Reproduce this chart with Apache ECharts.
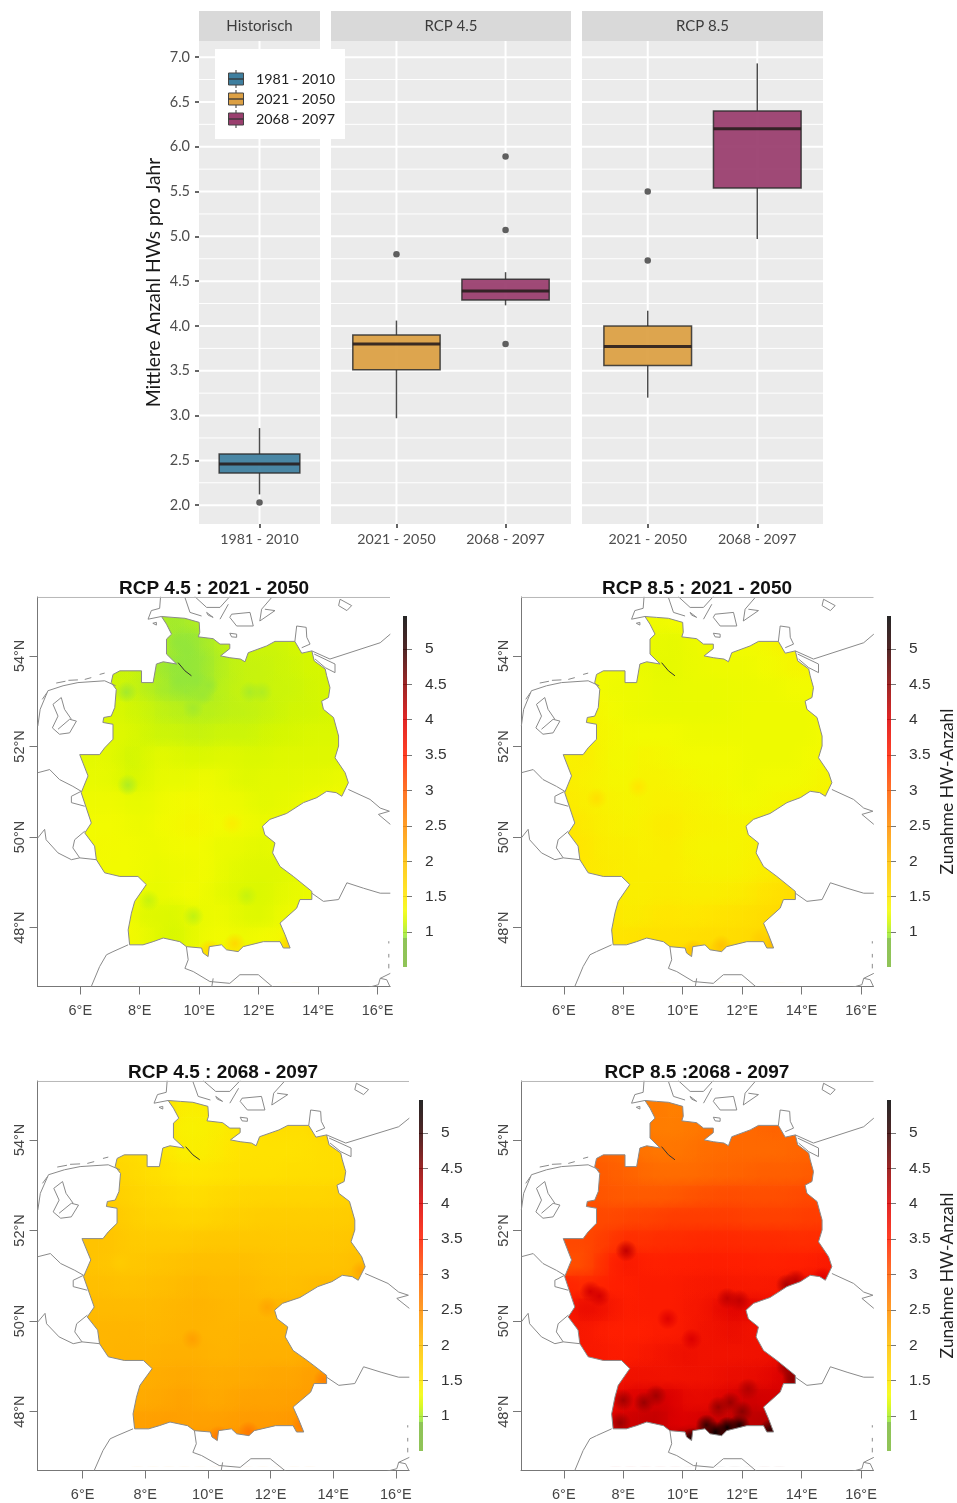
<!DOCTYPE html>
<html><head><meta charset="utf-8">
<style>html,body{margin:0;padding:0;background:#fff}#c{width:957px;height:1503px}</style>
<script src="https://cdn.jsdelivr.net/npm/echarts@6/dist/echarts.min.js"></script>
</head><body><div id="c"></div>
<script>
// ---------- Box plot data: [x, whiskerLow, q1, median, q3, whiskerHigh]
const periods = ['1981 - 2010', '2021 - 2050', '2068 - 2097'];
const periodColors = ['#3f7f9f', '#dca044', '#9a3f6e'];
const facetNames = ['Historisch', 'RCP 4.5', 'RCP 8.5'];
const histBoxes = [[1, 2.12, 2.36, 2.46, 2.57, 2.86]];
const rcp45Boxes = [[1, 2.97, 3.51, 3.80, 3.90, 4.06], [2, 4.23, 4.29, 4.39, 4.52, 4.60]];
const rcp85Boxes = [[1, 3.20, 3.56, 3.77, 4.00, 4.17], [2, 4.97, 5.54, 6.20, 6.40, 6.93]];
const histOutliers = [[1, 2.03]];
const rcp45Outliers = [[1, 4.80], [2, 5.89], [2, 5.07], [2, 3.80]];
const rcp85Outliers = [[1, 5.50], [1, 4.73]];
const yMajor = [2, 2.5, 3, 3.5, 4, 4.5, 5, 5.5, 6, 6.5, 7];
const yMinor = [2.25, 2.75, 3.25, 3.75, 4.25, 4.75, 5.25, 5.75, 6.25, 6.75];

// ---------- Map data
const lonTicks = [6, 8, 10, 12, 14, 16];
const latTicks = [48, 50, 52, 54];
const barTicks = [1, 1.5, 2, 2.5, 3, 3.5, 4, 4.5, 5];
const paletteValues = [0.5, 0.91, 0.92, 1.15, 1.3, 1.5, 2.0, 2.5, 3.0, 3.5, 4.0, 4.5, 5.0, 5.47];
const paletteColors = ['#7cb93a', '#7cb93a', '#93e63a', '#d5f700', '#f2fb00', '#ffe600', '#ffbf00', '#ff8c00', '#ff5a00', '#ff1e00', '#dc0000', '#8a0000', '#300000', '#000000'];
const cellLons = [5.5, 6, 6.5, 7, 7.5, 8, 8.5, 9, 9.5, 10, 10.5, 11, 11.5, 12, 12.5, 13, 13.5, 14, 14.5, 15];
const cellLats = [55, 54.5, 54, 53.5, 53, 52.5, 52, 51.5, 51, 50.5, 50, 49.5, 49, 48.5, 48, 47.5];

const rcp45near = [
[0,0,0,0,0,0,1.02,.97,1.0,1.05,1.1,0,0,0,0,0,0,0,0,0],
[0,0,0,0,0,0,1.02,.95,.92,.98,1.05,1.1,1.12,1.12,1.12,1.15,1.15,1.15,0,0],
[0,0,0,1.1,1.12,1.05,.98,.92,.92,.95,1.03,1.08,1.1,1.1,1.12,1.13,1.15,1.15,1.15,0],
[0,0,1.12,1.14,1.1,1.06,1.0,.96,.93,.98,1.05,1.08,1.1,1.1,1.12,1.12,1.14,1.15,1.15,0],
[0,0,1.18,1.18,1.14,1.12,1.08,1.06,1.04,1.05,1.06,1.08,1.08,1.1,1.12,1.14,1.14,1.15,1.16,0],
[0,1.2,1.2,1.2,1.18,1.14,1.12,1.12,1.1,1.1,1.12,1.12,1.12,1.14,1.15,1.16,1.18,1.18,1.18,0],
[0,1.22,1.24,1.2,1.14,1.18,1.22,1.2,1.18,1.18,1.2,1.2,1.18,1.18,1.2,1.2,1.2,1.2,1.2,1.22],
[0,1.25,1.25,1.22,1.15,1.2,1.25,1.25,1.25,1.28,1.26,1.22,1.2,1.22,1.22,1.22,1.24,1.24,1.26,1.26],
[0,1.28,1.28,1.28,1.25,1.25,1.28,1.3,1.32,1.3,1.28,1.28,1.25,1.22,1.24,1.25,1.28,1.3,1.3,0],
[0,1.3,1.3,1.3,1.28,1.27,1.3,1.32,1.35,1.33,1.3,1.32,1.28,1.26,1.28,1.3,1.3,1.3,0,0],
[0,1.3,1.32,1.3,1.3,1.28,1.28,1.3,1.3,1.3,1.26,1.26,1.24,1.22,1.25,1.3,0,0,0,0],
[0,0,1.3,1.3,1.3,1.28,1.26,1.28,1.28,1.3,1.26,1.22,1.2,1.2,1.2,1.22,1.25,0,0,0],
[0,0,1.28,1.3,1.3,1.26,1.25,1.28,1.3,1.28,1.24,1.2,1.18,1.18,1.22,1.25,1.26,1.28,0,0],
[0,0,0,1.3,1.3,1.2,1.2,1.18,1.24,1.26,1.28,1.24,1.2,1.2,1.26,1.28,1.3,1.3,0,0],
[0,0,0,0,1.32,1.26,1.2,1.16,1.22,1.28,1.3,1.28,1.28,1.3,1.32,1.36,0,0,0,0],
[0,0,0,0,1.32,1.32,1.3,1.26,1.34,1.42,1.48,1.45,1.42,1.42,1.45,1.6,0,0,0,0]];

const rcp85near = [
[0,0,0,0,0,0,1.3,1.28,1.3,1.32,1.3,0,0,0,0,0,0,0,0,0],
[0,0,0,0,0,0,1.28,1.25,1.24,1.26,1.28,1.28,1.3,1.3,1.32,1.36,1.4,1.35,0,0],
[0,0,0,1.3,1.3,1.28,1.26,1.24,1.24,1.26,1.27,1.28,1.28,1.28,1.3,1.32,1.35,1.36,1.3,0],
[0,0,1.3,1.3,1.28,1.28,1.27,1.25,1.25,1.26,1.26,1.26,1.27,1.27,1.28,1.28,1.3,1.3,1.3,0],
[0,0,1.36,1.34,1.3,1.28,1.27,1.26,1.26,1.26,1.26,1.26,1.27,1.28,1.28,1.28,1.28,1.28,1.3,0],
[0,1.38,1.38,1.36,1.33,1.3,1.3,1.3,1.3,1.28,1.28,1.28,1.28,1.28,1.28,1.28,1.28,1.28,1.3,0],
[0,1.4,1.42,1.38,1.32,1.32,1.36,1.34,1.32,1.3,1.3,1.3,1.3,1.28,1.28,1.28,1.28,1.3,1.32,1.34],
[0,1.42,1.4,1.38,1.34,1.34,1.38,1.38,1.36,1.34,1.32,1.32,1.3,1.28,1.3,1.3,1.3,1.32,1.35,1.36],
[0,1.45,1.42,1.4,1.38,1.36,1.38,1.4,1.4,1.38,1.36,1.34,1.32,1.3,1.32,1.34,1.36,1.38,1.4,0],
[0,1.5,1.46,1.42,1.4,1.38,1.4,1.44,1.44,1.4,1.38,1.38,1.36,1.36,1.38,1.4,1.42,1.4,0,0],
[0,1.5,1.5,1.44,1.42,1.42,1.4,1.42,1.42,1.38,1.36,1.36,1.36,1.38,1.4,1.42,0,0,0,0],
[0,0,1.48,1.46,1.44,1.42,1.42,1.42,1.42,1.4,1.38,1.38,1.38,1.4,1.42,1.46,1.48,0,0,0],
[0,0,1.48,1.46,1.44,1.42,1.42,1.44,1.44,1.42,1.42,1.42,1.44,1.46,1.52,1.56,1.6,1.6,0,0],
[0,0,0,1.48,1.48,1.44,1.46,1.5,1.5,1.48,1.5,1.52,1.55,1.58,1.62,1.66,1.65,1.62,0,0],
[0,0,0,0,1.52,1.52,1.56,1.56,1.56,1.58,1.6,1.62,1.62,1.64,1.68,1.7,0,0,0,0],
[0,0,0,0,1.6,1.6,1.62,1.66,1.72,1.78,1.82,1.82,1.78,1.75,1.72,1.7,0,0,0,0]];

const rcp45far = [
[0,0,0,0,0,0,1.55,1.42,1.42,1.45,1.5,0,0,0,0,0,0,0,0,0],
[0,0,0,0,0,0,1.5,1.4,1.4,1.42,1.46,1.5,1.55,1.6,1.6,1.6,1.7,1.7,0,0],
[0,0,0,1.65,1.62,1.55,1.48,1.42,1.42,1.45,1.5,1.55,1.55,1.55,1.55,1.58,1.6,1.62,1.62,0],
[0,0,1.7,1.7,1.65,1.6,1.55,1.5,1.5,1.52,1.55,1.58,1.58,1.58,1.6,1.6,1.62,1.62,1.65,0],
[0,0,1.8,1.78,1.72,1.68,1.65,1.62,1.62,1.65,1.68,1.7,1.72,1.72,1.72,1.72,1.72,1.75,1.75,0],
[0,1.9,1.9,1.85,1.78,1.75,1.75,1.72,1.72,1.75,1.78,1.8,1.82,1.82,1.82,1.82,1.82,1.82,1.85,0],
[0,1.95,1.95,1.9,1.85,1.85,1.85,1.85,1.88,1.9,1.9,1.9,1.9,1.88,1.88,1.88,1.88,1.9,1.92,1.92],
[0,1.95,1.92,1.9,1.9,1.92,1.95,1.98,2.0,2.0,2.0,2.0,1.98,1.95,1.95,1.95,1.95,1.95,2.0,2.0],
[0,2.0,2.0,1.98,1.98,2.0,2.02,2.05,2.08,2.05,2.05,2.05,2.02,2.0,2.0,2.02,2.05,2.05,2.08,0],
[0,2.05,2.05,2.05,2.05,2.05,2.08,2.1,2.12,2.1,2.08,2.08,2.08,2.1,2.1,2.1,2.08,2.08,0,0],
[0,2.08,2.1,2.1,2.1,2.08,2.1,2.12,2.12,2.1,2.1,2.12,2.12,2.12,2.12,2.12,0,0,0,0],
[0,0,2.1,2.12,2.12,2.12,2.15,2.15,2.15,2.12,2.12,2.15,2.15,2.15,2.15,2.2,2.2,0,0,0],
[0,0,2.12,2.15,2.15,2.18,2.2,2.22,2.2,2.18,2.2,2.2,2.22,2.25,2.25,2.3,2.3,2.35,0,0],
[0,0,0,2.2,2.2,2.22,2.25,2.28,2.25,2.22,2.25,2.28,2.28,2.28,2.3,2.32,2.35,2.35,0,0],
[0,0,0,0,2.3,2.3,2.32,2.3,2.3,2.3,2.32,2.35,2.35,2.35,2.38,2.4,0,0,0,0],
[0,0,0,0,2.35,2.35,2.38,2.4,2.42,2.45,2.5,2.52,2.5,2.48,2.45,2.5,0,0,0,0]];

const rcp85far = [
[0,0,0,0,0,0,2.62,2.68,2.62,2.65,2.7,0,0,0,0,0,0,0,0,0],
[0,0,0,0,0,0,2.68,2.65,2.65,2.68,2.72,2.78,2.85,2.85,2.88,2.92,2.85,2.85,0,0],
[0,0,0,2.92,2.88,2.82,2.75,2.72,2.72,2.75,2.8,2.82,2.85,2.85,2.85,2.85,2.88,2.9,2.92,0],
[0,0,2.98,3.0,2.95,2.92,2.85,2.82,2.82,2.82,2.85,2.88,2.9,2.92,2.95,2.95,2.95,2.98,3.0,0],
[0,0,3.05,3.05,3.02,3.0,3.0,3.0,3.02,3.05,3.08,3.1,3.12,3.1,3.1,3.1,3.12,3.15,3.15,0],
[0,3.12,3.15,3.15,3.15,3.18,3.2,3.22,3.25,3.25,3.25,3.25,3.25,3.22,3.22,3.22,3.22,3.25,3.25,0],
[0,3.15,3.15,3.22,3.3,3.38,3.35,3.38,3.38,3.4,3.42,3.42,3.42,3.4,3.4,3.4,3.38,3.38,3.4,3.4],
[0,3.1,3.12,3.3,3.48,3.58,3.5,3.48,3.5,3.5,3.52,3.52,3.5,3.5,3.48,3.48,3.5,3.5,3.55,3.6],
[0,3.45,3.4,3.45,3.5,3.5,3.55,3.55,3.55,3.58,3.6,3.62,3.6,3.58,3.58,3.6,3.65,3.78,3.82,0],
[0,3.6,3.78,3.75,3.6,3.52,3.55,3.55,3.55,3.62,3.65,3.8,3.92,3.88,3.8,3.78,3.75,3.7,0,0],
[0,3.6,3.62,3.55,3.5,3.5,3.5,3.55,3.55,3.62,3.7,3.72,3.78,3.72,3.7,3.68,0,0,0,0],
[0,0,3.6,3.6,3.55,3.55,3.6,3.65,3.7,3.75,3.7,3.7,3.7,3.72,3.72,3.78,3.85,0,0,0],
[0,0,3.7,3.7,3.65,3.72,3.72,3.7,3.7,3.72,3.72,3.75,3.8,3.8,3.85,3.95,4.05,4.15,0,0],
[0,0,0,3.78,3.85,3.95,4.0,4.05,4.0,3.85,3.85,3.9,4.02,4.1,4.05,4.05,4.02,4.0,0,0],
[0,0,0,0,4.0,4.08,4.12,4.15,4.0,3.98,4.05,4.12,4.15,4.18,4.2,4.25,0,0,0,0],
[0,0,0,0,4.08,4.1,4.08,4.15,4.25,4.55,4.8,5.0,4.85,4.6,4.5,4.6,0,0,0,0]];

// local features finer than the grid: [lon, lat, value]
const rcp45nearSpots = [[9.6,53.55,.92],[9.9,53.45,.92],[9.3,53.45,.92],[10.3,53.35,.94],[9.55,54.15,.92],[9.3,54.3,.92],[10.1,53.15,.95],[7.55,53.2,.98],[7.6,51.15,1.02],[9.8,52.85,.98],[11.7,53.2,1.0],[12.1,53.2,1.02],[9.8,48.25,1.08],[8.3,48.6,1.1],[11.6,48.7,1.1],[13.0,47.62,1.75],[11.2,47.65,1.65],[10.35,47.5,1.7],[13.6,54.5,1.0],[11.1,50.3,1.42]];
const rcp85nearSpots = [[13.05,47.65,2.05],[12.6,47.75,1.8],[10.35,47.5,1.95],[11.3,47.6,1.95],[7.1,50.85,1.58],[13.6,54.5,1.9],[8.5,51.1,1.5]];
const rcp45farSpots = [[13.55,54.55,2.8],[10.35,47.45,2.7],[11.3,47.55,2.7],[13.0,47.7,2.65],[13.7,48.7,2.6],[14.9,51.1,2.25],[9.5,49.6,2.3],[11.9,50.3,2.25],[7.2,51.3,1.85]];
const rcp85farSpots = [[8.1,51.55,4.15],[9.5,50.05,3.95],[6.9,50.65,4.05],[7.2,50.55,4.05],[11.5,50.5,4.15],[11.9,50.45,4.15],[13.5,50.8,4.3],[13.8,50.9,4.2],[13.7,48.85,4.4],[13.5,49.0,4.4],[13.7,48.7,4.5],[8.0,48.25,4.35],[8.7,48.2,4.4],[9.1,48.35,4.35],[10.3,47.4,5.2],[11.1,47.55,5.35],[11.5,47.65,5.35],[11.9,47.7,5.2],[12.95,47.6,5.0],[10.8,47.7,4.95],[12.0,48.0,4.5],[11.6,48.2,4.4],[7.9,47.75,4.4],[14.7,50.95,3.95],[10.3,49.6,4.0],[12.2,48.5,4.25],[11.2,48.1,4.4]];

const germany = [[8.73,54.87],[9.12,54.85],[9.52,54.83],[10.0,54.74],[10.02,54.52],[9.97,54.42],[10.47,54.38],[10.70,54.26],[11.03,54.26],[11.03,54.16],[10.72,54.0],[11.03,53.96],[11.39,53.93],[11.54,53.87],[11.65,54.07],[12.27,54.22],[12.55,54.32],[13.22,54.32],[13.45,54.06],[13.79,54.11],[13.87,53.89],[14.24,53.71],[14.29,53.56],[14.40,53.30],[14.35,53.08],[14.12,53.0],[14.18,52.82],[14.52,52.64],[14.69,52.23],[14.69,52.01],[14.57,51.75],[14.91,51.42],[15.02,51.20],[14.80,50.90],[14.61,50.98],[14.29,51.01],[13.96,50.87],[13.51,50.76],[12.94,50.52],[12.38,50.39],[12.13,50.24],[12.21,50.05],[12.55,49.87],[12.47,49.65],[12.72,49.35],[13.17,49.13],[13.79,48.80],[13.79,48.62],[13.39,48.62],[13.28,48.43],[12.72,48.10],[12.89,47.84],[13.06,47.55],[12.83,47.55],[12.72,47.69],[12.16,47.69],[11.48,47.58],[11.31,47.47],[10.92,47.51],[10.75,47.62],[10.34,47.58],[10.30,47.36],[10.13,47.44],[10.08,47.55],[9.57,47.58],[9.35,47.69],[8.79,47.77],[8.45,47.69],[8.11,47.62],[7.66,47.62],[7.61,47.95],[7.72,48.32],[7.83,48.58],[8.22,48.95],[7.94,49.13],[7.33,49.13],[6.82,49.21],[6.54,49.50],[6.48,49.80],[6.15,50.09],[6.37,50.31],[6.03,50.98],[6.26,51.35],[5.98,51.82],[6.65,51.82],[6.82,51.97],[7.10,52.16],[7.10,52.49],[6.76,52.53],[6.79,52.64],[7.04,52.67],[7.16,52.86],[7.21,53.26],[7.04,53.41],[7.10,53.59],[7.33,53.67],[8.06,53.67],[8.06,53.41],[8.45,53.41],[8.56,53.82],[8.79,53.87],[9.24,53.82],[8.90,54.04],[8.90,54.37],[9.07,54.48],[8.90,54.70]];
const borderLines = [
[[4.57,52.45],[4.65,52.82],[4.91,53.23],[5.42,53.34],[5.92,53.41],[6.82,53.45],[7.19,53.34]],
[[4.72,53.04],[4.88,53.19]],[[5.19,53.40],[5.5,53.44]],[[5.6,53.46],[5.92,53.47]],[[6.15,53.48],[6.37,53.52]],[[6.65,53.59],[6.82,53.62]],
[[5.36,53.08],[5.08,52.93],[5.25,52.67],[5.06,52.41],[5.30,52.27],[5.64,52.30],[5.87,52.56],[5.64,52.60],[5.25,52.38]],
[[5.36,53.08],[5.47,52.82],[5.70,52.60]],
[[4.57,51.42],[4.97,51.49],[5.30,51.27],[5.75,51.12],[6.03,51.01],[5.70,50.90],[5.70,50.76],[6.15,50.68]],
[[4.57,49.98],[4.80,50.17],[4.85,49.94],[5.25,49.65],[5.70,49.50],[5.98,49.54],[6.54,49.50]],
[[6.15,50.13],[5.81,49.94],[5.75,49.76],[5.98,49.54]],
[[7.61,47.62],[7.10,47.47],[6.88,47.40],[6.65,47.14],[6.37,46.70]],
[[9.57,47.58],[9.63,47.29],[9.52,47.10],[9.80,47.03],[10.36,46.81],[11.03,46.77],[11.37,46.96],[11.99,46.96],[12.49,46.68]],
[[10.47,46.88],[10.42,46.68]],
[[16.43,46.99],[16.09,46.88],[16.03,46.74],[15.70,46.68]],[[16.09,46.88],[16.31,46.85],[16.43,46.68]],
[[13.79,48.76],[14.18,48.58],[14.69,48.62],[14.97,48.99],[15.53,48.87],[16.09,48.76],[16.43,48.76]],
[[15.02,51.05],[15.75,50.83],[16.09,50.64],[16.40,50.57],[16.03,50.50],[16.43,50.28]],
[[13.79,54.11],[14.40,53.93],[16.09,54.29],[16.43,54.48]],
[[13.87,54.04],[14.57,53.82],[14.57,53.63],[14.24,53.74],[13.90,53.93]],
[[13.22,54.32],[13.28,54.66],[13.60,54.63],[13.62,54.41],[13.73,54.26],[13.45,54.18]],
[[14.74,55.25],[15.13,55.11],[14.97,55.0],[14.69,55.11],[14.74,55.25]],
[[8.70,55.31],[8.67,55.05],[8.39,55.0],[8.28,54.81],[8.73,54.87]],
[[8.44,54.72],[8.56,54.74],[8.56,54.68],[8.44,54.72]],
[[9.52,55.29],[9.69,54.96],[10.08,54.88]],
[[9.85,55.31],[10.25,55.07],[10.70,55.07],[11.03,55.31]],
[[10.25,54.96],[10.47,54.85],[10.3,54.9],[10.25,54.96]],
[[10.98,55.14],[10.70,54.81]],
[[11.09,54.92],[11.71,54.96],[11.82,54.66],[11.26,54.66],[11.03,54.85],[11.09,54.92]],
[[12.44,55.29],[12.10,55.03],[12.04,54.77],[12.55,55.0],[12.21,55.03]],
[[11.03,54.50],[11.26,54.48],[11.26,54.41],[11.09,54.42],[11.03,54.50]],
[[16.38,47.7],[16.38,47.65]],[[16.38,47.42],[16.38,47.34]],[[16.38,47.2],[16.38,47.1]]
];
const elbe = [[9.29,53.85],[9.52,53.67],[9.74,53.56]];
const mapTitles = ['RCP 4.5 : 2021 - 2050', 'RCP 8.5 : 2021 - 2050', 'RCP 4.5 : 2068 - 2097', 'RCP 8.5 :2068 - 2097'];
const barName = 'Zunahme HW-Anzahl';

// ---------- Helpers
function hex(c){return [1,3,5].map(i=>parseInt(c.substr(i,2),16));}
function rgbOf(v){
  if(v<=paletteValues[0])return hex(paletteColors[0]);
  for(let i=1;i<paletteValues.length;i++){
    if(v<=paletteValues[i]){
      const t=(v-paletteValues[i-1])/(paletteValues[i]-paletteValues[i-1]);
      const a=hex(paletteColors[i-1]),b=hex(paletteColors[i]);
      return a.map((x,k)=>Math.round(x+(b[k]-x)*t));
    }
  }
  return [0,0,0];
}
const rgba=(c,a)=>'rgba('+c.join(',')+','+a+')';
const grids=[],xAxes=[],yAxes=[],series=[],titles=[],graphics=[];
const LATO='Lato',HELV='"Liberation Sans"';

function addAxes(grid,x,y){
  const i=grids.length;grids.push(Object.assign({containLabel:false,outerBoundsMode:'none'},grid));
  xAxes.push(Object.assign({gridIndex:i,type:'value'},x));
  yAxes.push(Object.assign({gridIndex:i,type:'value'},y));
  return i;
}
// ---------- Facets
function catColor(labels,x){return periodColors[periods.indexOf(labels[x-1])];}
function addFacet(px,width,xMax,cats,boxes,outliers,showY,catLabels){
  const xMin=0.4;
  const i=addAxes(
    {left:px,top:41,width:width,height:483,show:true,backgroundColor:'#ebebeb',borderWidth:0},
    {min:xMin,max:xMax,axisLine:{show:false},splitLine:{show:false},
     axisTick:{show:true,customValues:cats,length:4,lineStyle:{color:'#333',width:1.5}},
     axisLabel:{customValues:cats,margin:8,fontFamily:LATO,fontSize:14.2,color:'#4d4d4d',formatter:v=>catLabels[v-1]}},
    {min:1.79,max:7.18,splitLine:{show:false},axisLine:{show:false},
     axisTick:{show:showY,customValues:yMajor,length:4,lineStyle:{color:'#333',width:1.5}},
     axisLabel:{show:showY,customValues:yMajor,margin:9,padding:[2,0,0,0],fontFamily:LATO,fontSize:14.5,color:'#4d4d4d',formatter:v=>v.toFixed(1)},
     name:showY?'Mittlere Anzahl HWs pro Jahr':'',nameLocation:'middle',nameRotate:90,nameGap:36,
     nameTextStyle:{fontFamily:LATO,fontSize:19.3,color:'#1a1a1a'}});
  const hline=(vals,w)=>({type:'custom',xAxisIndex:i,yAxisIndex:i,silent:true,z:1,animation:false,clip:true,data:vals.map(v=>[v]),
    renderItem:(p,api)=>{const a=api.coord([xMin,api.value(0)]),b=api.coord([xMax,api.value(0)]);
      return {type:'line',shape:{x1:a[0],y1:a[1],x2:b[0],y2:b[1]},style:{stroke:'#fff',lineWidth:w}};}});
  series.push(hline(yMinor,1),hline(yMajor,2));
  series.push({type:'custom',xAxisIndex:i,yAxisIndex:i,silent:true,z:1,animation:false,clip:true,data:cats.map(v=>[v]),
    renderItem:(p,api)=>{const a=api.coord([api.value(0),1.79]),b=api.coord([api.value(0),7.18]);
      return {type:'line',shape:{x1:a[0],y1:a[1],x2:b[0],y2:b[1]},style:{stroke:'#fff',lineWidth:2}};}});
  series.push({type:'custom',xAxisIndex:i,yAxisIndex:i,silent:true,z:3,animation:false,
    encode:{x:0,y:[1,5]},data:boxes.map(b=>b.slice()),
    renderItem:(p,api)=>{
      const x=api.value(0),c=catColor(catLabels,x);
      const lo=api.coord([x,api.value(1)]),q1=api.coord([x-0.4,api.value(2)]),med=api.value(3),q3=api.coord([x+0.4,api.value(4)]),hi=api.coord([x,api.value(5)]);
      const m1=api.coord([x-0.4,med]),m2=api.coord([x+0.4,med]);
      const mid=api.coord([x,api.value(2)]),midT=api.coord([x,api.value(4)]);
      const edge='rgba(45,45,45,0.85)';
      return {type:'group',children:[
        {type:'line',shape:{x1:lo[0],y1:lo[1],x2:mid[0],y2:mid[1]},style:{stroke:edge,lineWidth:1.5}},
        {type:'line',shape:{x1:hi[0],y1:hi[1],x2:midT[0],y2:midT[1]},style:{stroke:edge,lineWidth:1.5}},
        {type:'rect',shape:{x:q1[0],y:q3[1],width:q3[0]-q1[0],height:q1[1]-q3[1]},style:{fill:c+'f0',stroke:edge,lineWidth:1.5}},
        {type:'line',shape:{x1:m1[0],y1:m1[1],x2:m2[0],y2:m2[1]},style:{stroke:'rgba(40,30,30,0.9)',lineWidth:3}}
      ]};
    }});
  series.push({type:'scatter',xAxisIndex:i,yAxisIndex:i,silent:true,z:3,animation:false,symbolSize:6.5,itemStyle:{color:'#3a3a3a'},data:outliers});
}
addFacet(199,121,1.6,[1],histBoxes,histOutliers,true,[periods[0]]);
addFacet(331,240,2.6,[1,2],rcp45Boxes,rcp45Outliers,false,[periods[1],periods[2]]);
addFacet(582,241,2.6,[1,2],rcp85Boxes,rcp85Outliers,false,[periods[1],periods[2]]);

// strips
[[199,121],[331,240],[582,241]].forEach((s,k)=>{
  graphics.push({type:'rect',shape:{x:s[0],y:11,width:s[1],height:30},style:{fill:'#d9d9d9'},z:5,silent:true});
  graphics.push({type:'text',x:s[0]+s[1]/2,y:26,style:{text:facetNames[k],align:'center',verticalAlign:'middle',fontFamily:LATO,fontSize:15,fill:'#3c3c3c'},z:6,silent:true});
});
// legend
graphics.push({type:'rect',shape:{x:215,y:49,width:130,height:90},style:{fill:'#fff'},z:20,silent:true});
periods.forEach((p,k)=>{
  const cy=79+k*20;
  graphics.push({type:'line',shape:{x1:236,y1:cy-9,x2:236,y2:cy+9},style:{stroke:'#333',lineWidth:1},z:21,silent:true});
  graphics.push({type:'rect',shape:{x:228.5,y:cy-6,width:15,height:12},style:{fill:periodColors[k],stroke:'#444',lineWidth:1},z:22,silent:true});
  graphics.push({type:'line',shape:{x1:228.5,y1:cy,x2:243.5,y2:cy},style:{stroke:'#333',lineWidth:1.3},z:23,silent:true});
  graphics.push({type:'text',x:256,y:cy+0.5,style:{text:p,verticalAlign:'middle',fontFamily:LATO,fontSize:14.3,fill:'#222'},z:23,silent:true});
});

// ---------- Maps
const LONMIN=4.56,LONMAX=16.42,LATMIN=46.7,LATMAX=55.3;
function cellsFrom(rows){
  const out=[];
  rows.forEach((r,j)=>r.forEach((v,k)=>{ if(v>0) out.push([cellLons[k],cellLats[j]-0.5,cellLons[k]+0.5,cellLats[j],v]); }));
  return out;
}
function softSeries(i,data,radius,z,alpha){
  return {type:'custom',xAxisIndex:i,yAxisIndex:i,silent:true,z:z,animation:false,clip:true,data:data,
    renderItem:(p,api)=>{
      const c=api.coord([api.value(0),api.value(1)]),col=rgbOf(api.value(2));
      return {type:'circle',shape:{cx:c[0],cy:c[1],r:radius},style:{fill:new echarts.graphic.RadialGradient(0.5,0.5,0.5,[
        {offset:0,color:rgba(col,alpha)},{offset:0.45,color:rgba(col,alpha*0.6)},{offset:1,color:rgba(col,0)}])}};
    }};
}
function addMap(panel){
  const i=addAxes(
    {left:panel.left,top:panel.top,width:panel.width,height:389.5},
    {min:LONMIN,max:LONMAX,splitLine:{show:false},
     axisLine:{show:true,lineStyle:{color:'#777',width:1}},
     axisTick:{show:true,customValues:lonTicks,length:8,lineStyle:{color:'#777'}},
     axisLabel:{customValues:lonTicks,margin:17,fontFamily:HELV,fontSize:14.5,color:'#444',formatter:v=>v+'°E'}},
    {min:LATMIN,max:LATMAX,splitLine:{show:false},
     axisLine:{show:true,lineStyle:{color:'#777',width:1}},
     axisTick:{show:true,customValues:latTicks,length:8,lineStyle:{color:'#777'}},
     axisLabel:{customValues:latTicks,rotate:90,margin:10,fontFamily:HELV,fontSize:14.5,color:'#444',formatter:v=>v+'°N'}});
  const cells=cellsFrom(panel.rows);
  series.push({type:'custom',xAxisIndex:i,yAxisIndex:i,silent:true,z:2,animation:false,clip:true,
    data:cells,
    renderItem:(p,api)=>{
      const a=api.coord([api.value(0),api.value(3)]),b=api.coord([api.value(2),api.value(1)]);
      return {type:'rect',shape:{x:a[0],y:a[1],width:b[0]-a[0]+.5,height:b[1]-a[1]+.5},style:{fill:rgba(rgbOf(api.value(4)),1)}};
    }});
  // soft blending of neighbouring cells, then local features
  series.push(softSeries(i,cells.map(c=>[c[0]+0.25,c[1]+0.25,c[4]]),22,2,0.75));
  series.push(softSeries(i,panel.spots,11,2,1));
  // white surround, cut around the outline of Germany
  const surround=[[4.7,55.28],[4.7,46.8],[16.42,46.8],[16.42,55.28],[4.7,55.28]].concat(germany,[germany[0],[4.7,55.28]]);
  series.push({type:'custom',xAxisIndex:i,yAxisIndex:i,silent:true,z:3,animation:false,clip:true,
    data:[[0]],renderItem:(p,api)=>({type:'polygon',shape:{points:surround.map(q=>api.coord(q))},style:{fill:'#fff'}})});
  const gap=[['-','-']],lines=[];
  borderLines.concat([germany.concat([germany[0]])]).forEach(l=>{lines.push(...l,...gap);});
  const line=(data,color,w,z)=>({type:'line',xAxisIndex:i,yAxisIndex:i,silent:true,z:z,animation:false,symbol:'none',showSymbol:false,clip:true,
    lineStyle:{color:color,width:w},data:data});
  series.push(line(lines,'#8a8a8a',1,4));
  series.push(line(elbe,'#333',1,4));
  series.push(line([[LONMIN,55.29],[LONMAX,55.29]],'#b5b5b5',1,4));
  titles.push({text:panel.title,left:panel.titleX,top:panel.top-18,textAlign:'center',
    textStyle:{fontFamily:HELV,fontSize:19,fontWeight:'bold',color:'#111'},padding:0});
  // colour bar
  const k=addAxes(
    {left:panel.barX,top:panel.barTop,width:4,height:351},
    {min:0,max:1,show:false},
    {min:0.505,max:5.466,position:'right',splitLine:{show:false},axisLine:{show:false},
     axisTick:{show:true,customValues:barTicks,length:9,lineStyle:{color:'#777'}},
     axisLabel:{customValues:barTicks,margin:18,fontFamily:HELV,fontSize:15.5,color:'#333',formatter:v=>String(v)},
     name:panel.named?barName:'',nameLocation:'middle',nameRotate:90,nameGap:47,
     nameTextStyle:{fontFamily:LATO,fontSize:17.5,color:'#222'}});
  const span=5.466-0.505;
  series.push({type:'custom',xAxisIndex:k,yAxisIndex:k,silent:true,z:2,animation:false,
    data:[[0,0.505,1,5.466]],
    renderItem:(p,api)=>{
      const a=api.coord([0,5.466]),b=api.coord([1,0.505]);
      return {type:'rect',shape:{x:a[0],y:a[1],width:b[0]-a[0],height:b[1]-a[1]},style:{opacity:0.85,fill:new echarts.graphic.LinearGradient(0,1,0,0,
        paletteValues.map((v,n)=>({offset:Math.min(1,Math.max(0,(v-0.505)/span)),color:paletteColors[n]})))}};
    }});
}
addMap({left:37.5,top:597,width:352.5,rows:rcp45near,spots:rcp45nearSpots,title:mapTitles[0],titleX:214,barX:403,barTop:616,named:false});
addMap({left:521,top:597,width:352.5,rows:rcp85near,spots:rcp85nearSpots,title:mapTitles[1],titleX:697,barX:887,barTop:616,named:true});
addMap({left:37.5,top:1081,width:371.5,rows:rcp45far,spots:rcp45farSpots,title:mapTitles[2],titleX:223,barX:419,barTop:1100,named:false});
addMap({left:521,top:1081,width:352.5,rows:rcp85far,spots:rcp85farSpots,title:mapTitles[3],titleX:697,barX:887,barTop:1100,named:true});

const chart=echarts.init(document.getElementById('c'),null,{renderer:'canvas'});
chart.setOption({animation:false,backgroundColor:'#fff',title:titles,grid:grids,xAxis:xAxes,yAxis:yAxes,series:series,graphic:graphics});
</script></body></html>
